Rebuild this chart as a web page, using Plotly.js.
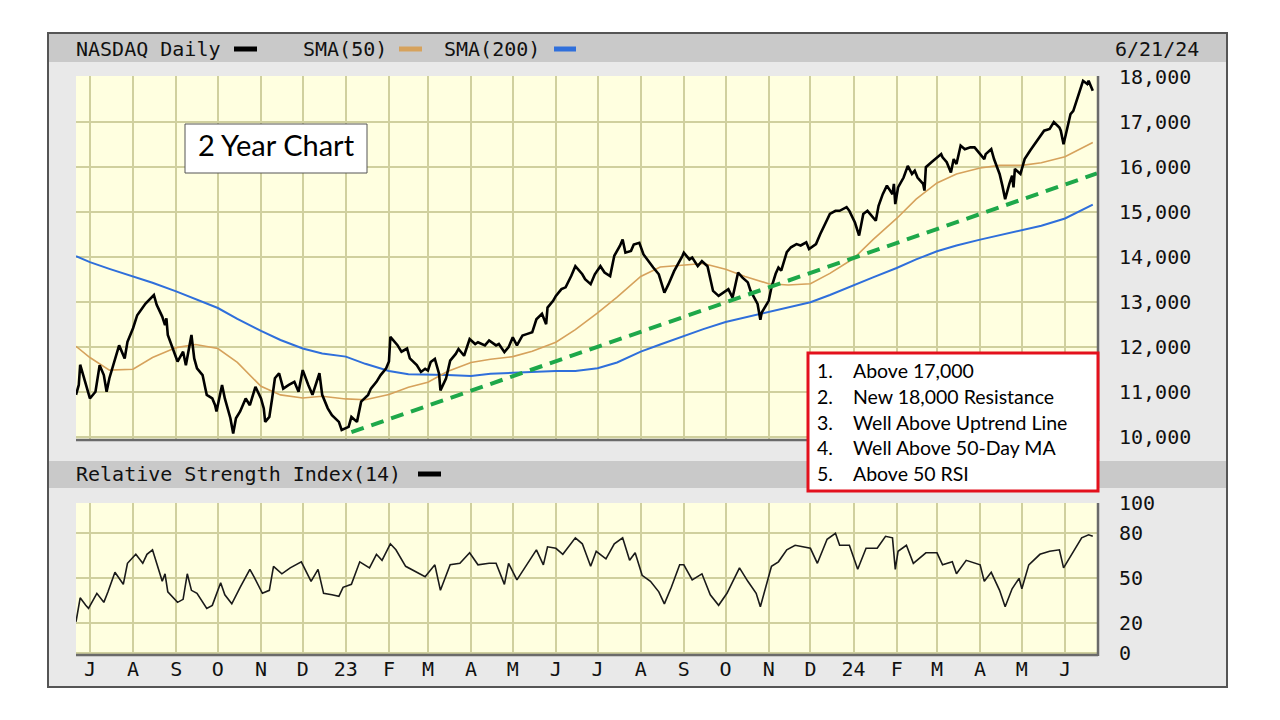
<!DOCTYPE html>
<html>
<head>
<meta charset="utf-8">
<script src="https://cdn.plot.ly/plotly-3.0.1.min.js"></script>
<style>
html,body{margin:0;padding:0;background:#ffffff;}
#chart{width:1280px;height:720px;}
</style>
</head>
<body>
<div id="chart"></div>
<script>
// ---------------- DATA ----------------
const priceDates = [
'2022-06-21','2022-06-23','2022-06-24','2022-06-30','2022-07-01','2022-07-05','2022-07-08','2022-07-11',
'2022-07-13','2022-07-15','2022-07-18','2022-07-20','2022-07-22','2022-07-26','2022-07-28','2022-08-01',
'2022-08-04','2022-08-10','2022-08-16','2022-08-18','2022-08-22','2022-08-24','2022-08-25','2022-08-26',
'2022-08-29','2022-08-30','2022-09-02','2022-09-06','2022-09-08','2022-09-12','2022-09-14','2022-09-16',
'2022-09-20','2022-09-22','2022-09-23','2022-09-27','2022-09-29','2022-09-30','2022-10-04','2022-10-06',
'2022-10-10','2022-10-12','2022-10-14','2022-10-17','2022-10-21','2022-10-24','2022-10-27','2022-10-28',
'2022-11-01','2022-11-03','2022-11-04','2022-11-07','2022-11-09','2022-11-11','2022-11-14','2022-11-17',
'2022-11-21','2022-11-25','2022-11-28','2022-12-01','2022-12-05','2022-12-08','2022-12-13','2022-12-15',
'2022-12-19','2022-12-22','2022-12-27','2022-12-29',
'2023-01-03','2023-01-05','2023-01-09','2023-01-12','2023-01-17','2023-01-19','2023-01-23','2023-01-26',
'2023-01-30','2023-02-01','2023-02-02','2023-02-07','2023-02-10','2023-02-14','2023-02-16','2023-02-21',
'2023-02-24','2023-02-27','2023-03-01','2023-03-03','2023-03-06','2023-03-09','2023-03-10','2023-03-14',
'2023-03-17','2023-03-21','2023-03-23','2023-03-27','2023-03-31','2023-04-04','2023-04-06','2023-04-11',
'2023-04-14','2023-04-19','2023-04-21','2023-04-25','2023-04-28','2023-05-01','2023-05-04','2023-05-08',
'2023-05-11','2023-05-15','2023-05-18','2023-05-22','2023-05-25','2023-05-26','2023-05-30','2023-06-01',
'2023-06-05','2023-06-08','2023-06-12','2023-06-15','2023-06-20','2023-06-22','2023-06-26','2023-06-29',
'2023-07-03','2023-07-06','2023-07-10','2023-07-13','2023-07-17','2023-07-19','2023-07-21','2023-07-25',
'2023-07-27','2023-07-31','2023-08-03','2023-08-07','2023-08-10','2023-08-14','2023-08-18','2023-08-21',
'2023-08-23','2023-08-25','2023-08-31','2023-09-01','2023-09-05','2023-09-07','2023-09-11','2023-09-14',
'2023-09-18','2023-09-20','2023-09-22','2023-09-26','2023-09-29','2023-10-03','2023-10-06','2023-10-10',
'2023-10-13','2023-10-17','2023-10-19','2023-10-23','2023-10-24','2023-10-26','2023-10-27','2023-11-01',
'2023-11-03','2023-11-06','2023-11-08','2023-11-10','2023-11-14','2023-11-17','2023-11-21','2023-11-24',
'2023-11-28','2023-11-30','2023-12-05','2023-12-08','2023-12-13','2023-12-15','2023-12-19','2023-12-22',
'2023-12-27','2023-12-29',
'2024-01-02','2024-01-04','2024-01-05','2024-01-08','2024-01-11','2024-01-17','2024-01-19','2024-01-22',
'2024-01-25','2024-01-29','2024-01-30','2024-01-31','2024-02-02','2024-02-06','2024-02-09','2024-02-12',
'2024-02-14','2024-02-16','2024-02-20','2024-02-21','2024-02-22','2024-02-26','2024-02-29','2024-03-04',
'2024-03-05','2024-03-08','2024-03-11','2024-03-13','2024-03-15','2024-03-18','2024-03-21','2024-03-25',
'2024-03-28','2024-04-01','2024-04-04','2024-04-05','2024-04-09','2024-04-11','2024-04-15','2024-04-17',
'2024-04-19','2024-04-22','2024-04-24','2024-04-25','2024-04-26','2024-04-30','2024-05-03','2024-05-07',
'2024-05-10','2024-05-14','2024-05-17','2024-05-21','2024-05-24','2024-05-28','2024-05-29','2024-05-31',
'2024-06-03','2024-06-05','2024-06-07','2024-06-10','2024-06-12','2024-06-14','2024-06-17','2024-06-18',
'2024-06-21'
];
const nasdaqClose = [
10930,11150,11600,11000,10850,11000,11590,11370,
11000,11300,11590,11810,12030,11740,12110,12410,
12700,12960,13150,12930,12670,12480,12630,12260,
12000,11890,11670,11890,11590,12260,11740,11520,
11370,11070,10930,10850,10700,10560,11150,10850,
10410,10070,10410,10560,10850,10700,11000,11110,
10850,10630,10330,10440,10850,11300,11410,11070,
11150,11220,11000,11480,11150,10930,11410,10930,
10630,10480,10330,10150,
10220,10440,10330,10780,10930,11070,11220,11370,
11520,11670,12220,12040,11890,11960,11740,11590,
11440,11510,11470,11660,11730,11400,11030,11290,
11690,11840,11950,11800,12170,12060,12100,12030,
12140,12030,12060,11880,11990,12210,12030,12250,
12280,12320,12610,12730,12500,12870,13020,13130,
13280,13320,13570,13790,13610,13500,13390,13610,
13790,13650,13570,14020,14240,14380,14090,14130,
14270,14310,14050,13870,13760,13610,13200,13390,
13540,13680,14020,14090,13940,13980,13790,13900,
13790,13540,13240,13130,13200,13280,13090,13650,
13540,13430,13240,12980,12950,12600,12760,13020,
13320,13620,13760,13690,14100,14210,14280,14250,
14320,14170,14280,14500,14800,14950,15020,15020,
15100,15020,
14760,14580,14470,14950,15020,14800,15130,15390,
15580,15390,15620,15170,15540,15760,16020,15840,
15910,15760,15620,15470,15990,16100,16170,16280,
16210,16100,15870,16170,16060,16470,16390,16430,
16430,16280,16170,16280,16390,16170,15840,15580,
15280,15620,15800,15540,15950,15840,16170,16360,
16500,16690,16800,16840,16990,16870,16800,16500,
16950,17170,17240,17540,17730,17910,17840,17910,
17690
];
const rsiDates = [
'2022-06-21','2022-06-24','2022-06-28','2022-06-30','2022-07-06','2022-07-11','2022-07-14','2022-07-19',
'2022-07-25','2022-07-28','2022-08-03','2022-08-08','2022-08-11','2022-08-15','2022-08-18','2022-08-22',
'2022-08-24','2022-08-26','2022-09-02','2022-09-06','2022-09-09','2022-09-12','2022-09-16','2022-09-23',
'2022-09-27','2022-10-03','2022-10-06','2022-10-11','2022-10-17','2022-10-24','2022-10-27','2022-11-02',
'2022-11-07','2022-11-10','2022-11-16','2022-11-22','2022-11-30','2022-12-05','2022-12-07','2022-12-12',
'2022-12-16','2022-12-22','2022-12-27','2022-12-30',
'2023-01-05','2023-01-11','2023-01-18','2023-01-23','2023-01-27','2023-02-02','2023-02-06','2023-02-13',
'2023-02-17','2023-02-27','2023-03-06','2023-03-10','2023-03-17','2023-03-24','2023-03-31','2023-04-06',
'2023-04-14','2023-04-19','2023-04-25','2023-04-28','2023-05-04','2023-05-11','2023-05-18','2023-05-23',
'2023-05-26','2023-06-01','2023-06-06','2023-06-15','2023-06-20','2023-06-26','2023-06-30','2023-07-07',
'2023-07-13','2023-07-19','2023-07-24','2023-07-28','2023-08-02','2023-08-08','2023-08-14','2023-08-18',
'2023-08-23','2023-08-29','2023-09-01','2023-09-07','2023-09-14','2023-09-20','2023-09-26','2023-10-02',
'2023-10-11','2023-10-17','2023-10-23','2023-10-26','2023-11-03','2023-11-08','2023-11-14','2023-11-20',
'2023-12-01','2023-12-06','2023-12-13','2023-12-19','2023-12-22','2023-12-29',
'2024-01-04','2024-01-10','2024-01-18','2024-01-24','2024-01-29','2024-01-31','2024-02-02','2024-02-08',
'2024-02-13','2024-02-22','2024-03-01','2024-03-05','2024-03-12','2024-03-15','2024-03-22','2024-04-01',
'2024-04-04','2024-04-09','2024-04-15','2024-04-19','2024-04-24','2024-04-29','2024-05-01','2024-05-06',
'2024-05-14','2024-05-21','2024-05-28','2024-05-31','2024-06-07','2024-06-13','2024-06-18','2024-06-21'
];
const rsi14 = [
21,37,32,30,40,34,41,54,
46,60,66,60,66,69,60,48,
53,41,34,36,53,42,40,30,
32,47,39,33,44,56,51,40,
42,58,53,57,61,52,48,56,
40,39,38,44,
46,61,57,66,62,73,69,58,
56,51,59,42,59,60,67,59,
60,60,46,60,49,59,69,59,
71,70,66,77,73,58,68,63,
73,77,62,67,52,48,41,33,
44,59,59,49,53,39,32,40,
57,48,40,31,58,61,69,72,
70,60,76,80,72,72,
56,70,70,78,77,56,68,72,
60,67,67,59,61,53,62,59,
48,54,42,31,43,50,43,59,
66,68,69,57,68,77,79,78
];
const smaDates = [
'2022-06-21','2022-07-01','2022-07-15','2022-08-01','2022-08-15','2022-09-01','2022-09-15',
'2022-10-01','2022-10-15','2022-11-01','2022-11-15','2022-12-01','2022-12-15',
'2023-01-01','2023-01-15','2023-02-01','2023-02-15','2023-03-01','2023-03-15','2023-04-01',
'2023-04-15','2023-05-01','2023-05-15','2023-06-01','2023-06-15','2023-07-01','2023-07-15',
'2023-08-01','2023-08-15','2023-09-01','2023-09-15','2023-10-01','2023-10-15','2023-11-01',
'2023-11-15','2023-12-01','2023-12-15',
'2024-01-01','2024-01-15','2024-02-01','2024-02-15','2024-03-01','2024-03-15','2024-04-01',
'2024-04-15','2024-05-01','2024-05-15','2024-06-01','2024-06-21'
];
const sma50 = [
12010,11760,11480,11500,11760,11980,12050,
11960,11650,11120,10930,10860,10900,
10840,10820,10940,11100,11210,11450,11650,
11720,11780,11900,12100,12380,12750,13100,
13560,13770,13820,13850,13720,13560,13400,
13370,13400,13630,
13960,14380,14850,15280,15640,15840,15970,
16030,16030,16090,16220,16540
];
const sma200 = [
14010,13880,13730,13560,13420,13230,13050,
12860,12620,12350,12150,11960,11850,
11780,11620,11460,11390,11385,11370,11350,
11400,11420,11440,11460,11460,11520,11650,
11890,12050,12240,12390,12550,12650,12770,
12880,12990,13150,
13370,13540,13750,13940,14120,14250,14380,
14480,14580,14690,14850,15160
];
const trendDates = ['2023-01-05','2024-06-24'];
const trendValues = [10100,15850];
const monthTickDates = [
'2022-07-01','2022-08-01','2022-09-01','2022-10-01','2022-11-01','2022-12-01',
'2023-01-01','2023-02-01','2023-03-01','2023-04-01','2023-05-01','2023-06-01',
'2023-07-01','2023-08-01','2023-09-01','2023-10-01','2023-11-01','2023-12-01',
'2024-01-01','2024-02-01','2024-03-01','2024-04-01','2024-05-01','2024-06-01'
];
const monthTickLabels = ['J','A','S','O','N','D','23','F','M','A','M','J','J','A','S','O','N','D','24','F','M','A','M','J'];
const priceTicks = [10000,11000,12000,13000,14000,15000,16000,17000,18000];
const rsiTicks = [0,20,50,80,100];
const rsiMidline = 50;
const noteNumbers = ['1.','2.','3.','4.','5.'];
const noteTexts = ['Above 17,000','New 18,000 Resistance','Well Above Uptrend Line','Well Above 50-Day MA','Above 50 RSI'];

// ---------------- LAYOUT HELPERS ----------------
const W = 1280, H = 720;
const px = x => x / W;
const py = y => 1 - y / H;
const MONO = 'DejaVu Sans Mono, monospace';
const HUM = 'Lato, Noto Sans, sans-serif';
const gridCol = '#D0D09E';
const plotL = 76, plotR = 1098;
const monoSize = 20;

function rectShape(x0, y0, x1, y1, fill, line, lw, layer) {
  return {type:'rect', xref:'paper', yref:'paper', x0:px(x0), x1:px(x1), y0:py(y1), y1:py(y0),
    fillcolor:fill, line:{color:line||'rgba(0,0,0,0)', width:lw||0}, layer:layer||'below'};
}
function lineShape(x0, y0, x1, y1, color, w, layer) {
  return {type:'line', xref:'paper', yref:'paper', x0:px(x0), x1:px(x1), y0:py(y0), y1:py(y1),
    line:{color:color, width:w}, layer:layer||'above'};
}
function label(text, x, y, opts) {
  opts = opts || {};
  return {text:text, xref:'paper', yref:'paper', x:px(x), y:py(y), showarrow:false,
    xanchor:opts.xanchor||'left', yanchor:'middle', borderpad:0,
    font:{family:opts.family||MONO, size:opts.size||monoSize, color:opts.color||'#111'}};
}

const traces = [
  {x:smaDates, y:sma200, type:'scatter', mode:'lines', xaxis:'x', yaxis:'y',
   line:{color:'#2F6FDB', width:2}, hoverinfo:'skip'},
  {x:smaDates, y:sma50, type:'scatter', mode:'lines', xaxis:'x', yaxis:'y',
   line:{color:'#D6A25C', width:1.6}, hoverinfo:'skip'},
  {x:priceDates, y:nasdaqClose, type:'scatter', mode:'lines', xaxis:'x', yaxis:'y',
   line:{color:'#000000', width:2.6}, hoverinfo:'skip'},
  {x:trendDates, y:trendValues, type:'scatter', mode:'lines', xaxis:'x', yaxis:'y',
   line:{color:'#1EA84A', width:4, dash:'13px,8px'}, hoverinfo:'skip'},
  {x:rsiDates, y:rsi14, type:'scatter', mode:'lines', xaxis:'x', yaxis:'y2',
   line:{color:'#1a1a1a', width:1.6}, hoverinfo:'skip'}
];

const shapes = [
  rectShape(48, 33, 1227, 687, '#E9E9E9', '#555555', 2),
  rectShape(49, 34, 1226, 62, '#C9C9C9'),
  rectShape(49, 461, 1226, 488, '#C9C9C9'),
  rectShape(plotL, 76, plotR, 440, '#FFFFE0'),
  rectShape(plotL, 503, plotR, 655, '#FFFFE0'),
  {type:'line', xref:'paper', yref:'y2', x0:px(plotL), x1:px(plotR), y0:rsiMidline, y1:rsiMidline,
   line:{color:'#000000', width:1.6}, layer:'between'},
  lineShape(plotL, 440, plotR, 440, '#6A6A6A', 2.5),
  lineShape(plotR, 76, plotR, 441, '#6A6A6A', 2.5),
  lineShape(plotL, 655, plotR, 655, '#6A6A6A', 2.5),
  lineShape(plotR, 503, plotR, 656, '#6A6A6A', 2.5),
  rectShape(234, 46.5, 257, 51.5, '#000000', null, 0, 'above'),
  rectShape(399, 46.5, 422, 51.5, '#D6A25C', null, 0, 'above'),
  rectShape(554, 46.5, 576, 51.5, '#2F6FDB', null, 0, 'above'),
  rectShape(418, 471.5, 441, 476.5, '#000000', null, 0, 'above'),
  rectShape(185, 124, 367, 173, '#FFFFFF', '#555555', 1, 'above'),
  rectShape(808, 353, 1098, 491, '#FFFFFF', '#E3101C', 3, 'above')
];

const annotations = [
  label('NASDAQ Daily', 75, 49),
  label('SMA(50)', 302, 49),
  label('SMA(200)', 443, 49),
  label('6/21/24', 1114, 49),
  label('Relative Strength Index(14)', 75, 474),
  label('2 Year Chart', 276, 145, {xanchor:'center', family:HUM, size:29, color:'#000'})
];
noteNumbers.forEach((n, i) => {
  annotations.push(label(n, 816, 371 + 25.5 * i, {family:HUM, size:19.5, color:'#000'}));
  annotations.push(label(noteTexts[i], 852, 371 + 25.5 * i, {family:HUM, size:19.5, color:'#000'}));
});

const tickFont = {family:MONO, size:monoSize, color:'#111'};
const layout = {
  width: W, height: H,
  margin:{l:0, r:0, t:0, b:0},
  paper_bgcolor:'#FFFFFF',
  plot_bgcolor:'rgba(0,0,0,0)',
  showlegend:false,
  xaxis:{
    domain:[px(plotL), px(plotR)], anchor:'y2', type:'date',
    range:['2022-06-21','2024-06-24 18:00'],
    tickmode:'array', tickvals:monthTickDates, ticktext:monthTickLabels,
    showgrid:true, gridcolor:gridCol, gridwidth:2, zeroline:false, showline:false,
    ticks:'', tickfont:tickFont, fixedrange:true
  },
  yaxis:{
    domain:[py(440), py(76)], anchor:'x', side:'right',
    range:[9927, 18016], tickmode:'array', tickvals:priceTicks, tickformat:',d',
    showgrid:true, gridcolor:gridCol, gridwidth:2, zeroline:false, showline:false,
    ticks:'outside', ticklen:16, tickcolor:'rgba(0,0,0,0)', tickfont:tickFont, fixedrange:true
  },
  yaxis2:{
    domain:[py(655), py(503)], anchor:'x', side:'right',
    range:[-1.1, 100.2], tickmode:'array', tickvals:rsiTicks,
    showgrid:true, gridcolor:gridCol, gridwidth:2, zeroline:false, showline:false,
    ticks:'outside', ticklen:16, tickcolor:'rgba(0,0,0,0)', tickfont:tickFont, fixedrange:true
  },
  shapes: shapes,
  annotations: annotations
};

Plotly.newPlot('chart', traces, layout, {staticPlot:true, displayModeBar:false});
</script>
</body>
</html>
